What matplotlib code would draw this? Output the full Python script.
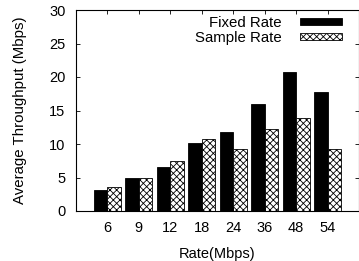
import numpy as np
import matplotlib
matplotlib.use("Agg")
import matplotlib.pyplot as plt

plt.rcParams["font.family"] = ["Liberation Sans", "DejaVu Sans"]
plt.rcParams["hatch.linewidth"] = 0.6

rates = ["6", "9", "12", "18", "24", "36", "48", "54"]
fixed_rate = [3.2, 4.9, 6.6, 10.2, 11.8, 16.0, 20.7, 17.7]
sample_rate = [3.6, 5.0, 7.4, 10.7, 9.3, 12.2, 13.9, 9.2]

fig = plt.figure(figsize=(3.59, 2.61), dpi=100)
# axes box: left 76px, right ~358px, top 10px, bottom 211px
ax = fig.add_axes([76 / 359, 50 / 261, 283 / 359, 201 / 261])

x = np.arange(1, len(rates) + 1)
w = 0.43
ax.bar(x - w / 2, fixed_rate, w, color="black", edgecolor="black",
       linewidth=0.6, label="Fixed Rate")
ax.bar(x + w / 2, sample_rate, w, color="white", edgecolor="black",
       linewidth=0.6, hatch="xxxxx", label="Sample Rate")

ax.set_xlim(0, 9)
ax.set_ylim(0, 30)
ax.set_xticks(x)
ax.set_xticklabels(rates)
ax.set_yticks(range(0, 31, 5))
ax.tick_params(direction="in", top=True, right=True, length=3,
               labelsize=10.5, width=0.6, pad=7.5)
for s in ax.spines.values():
    s.set_linewidth(0.8)

ax.set_xlabel("Rate(Mbps)", fontsize=10.5, labelpad=8)
ax.set_ylabel("Average Throughput (Mbps)", fontsize=10.8, labelpad=16)

leg = ax.legend(loc="upper right", frameon=False, fontsize=10.8,
                markerfirst=False, handlelength=2.8, handleheight=0.4,
                labelspacing=0.05, borderaxespad=0.0, handletextpad=1.2,
                bbox_to_anchor=(0.96, 1.0))
for t in leg.get_texts():
    t.set_ha("right")

fig.savefig("out.png", dpi=100)
